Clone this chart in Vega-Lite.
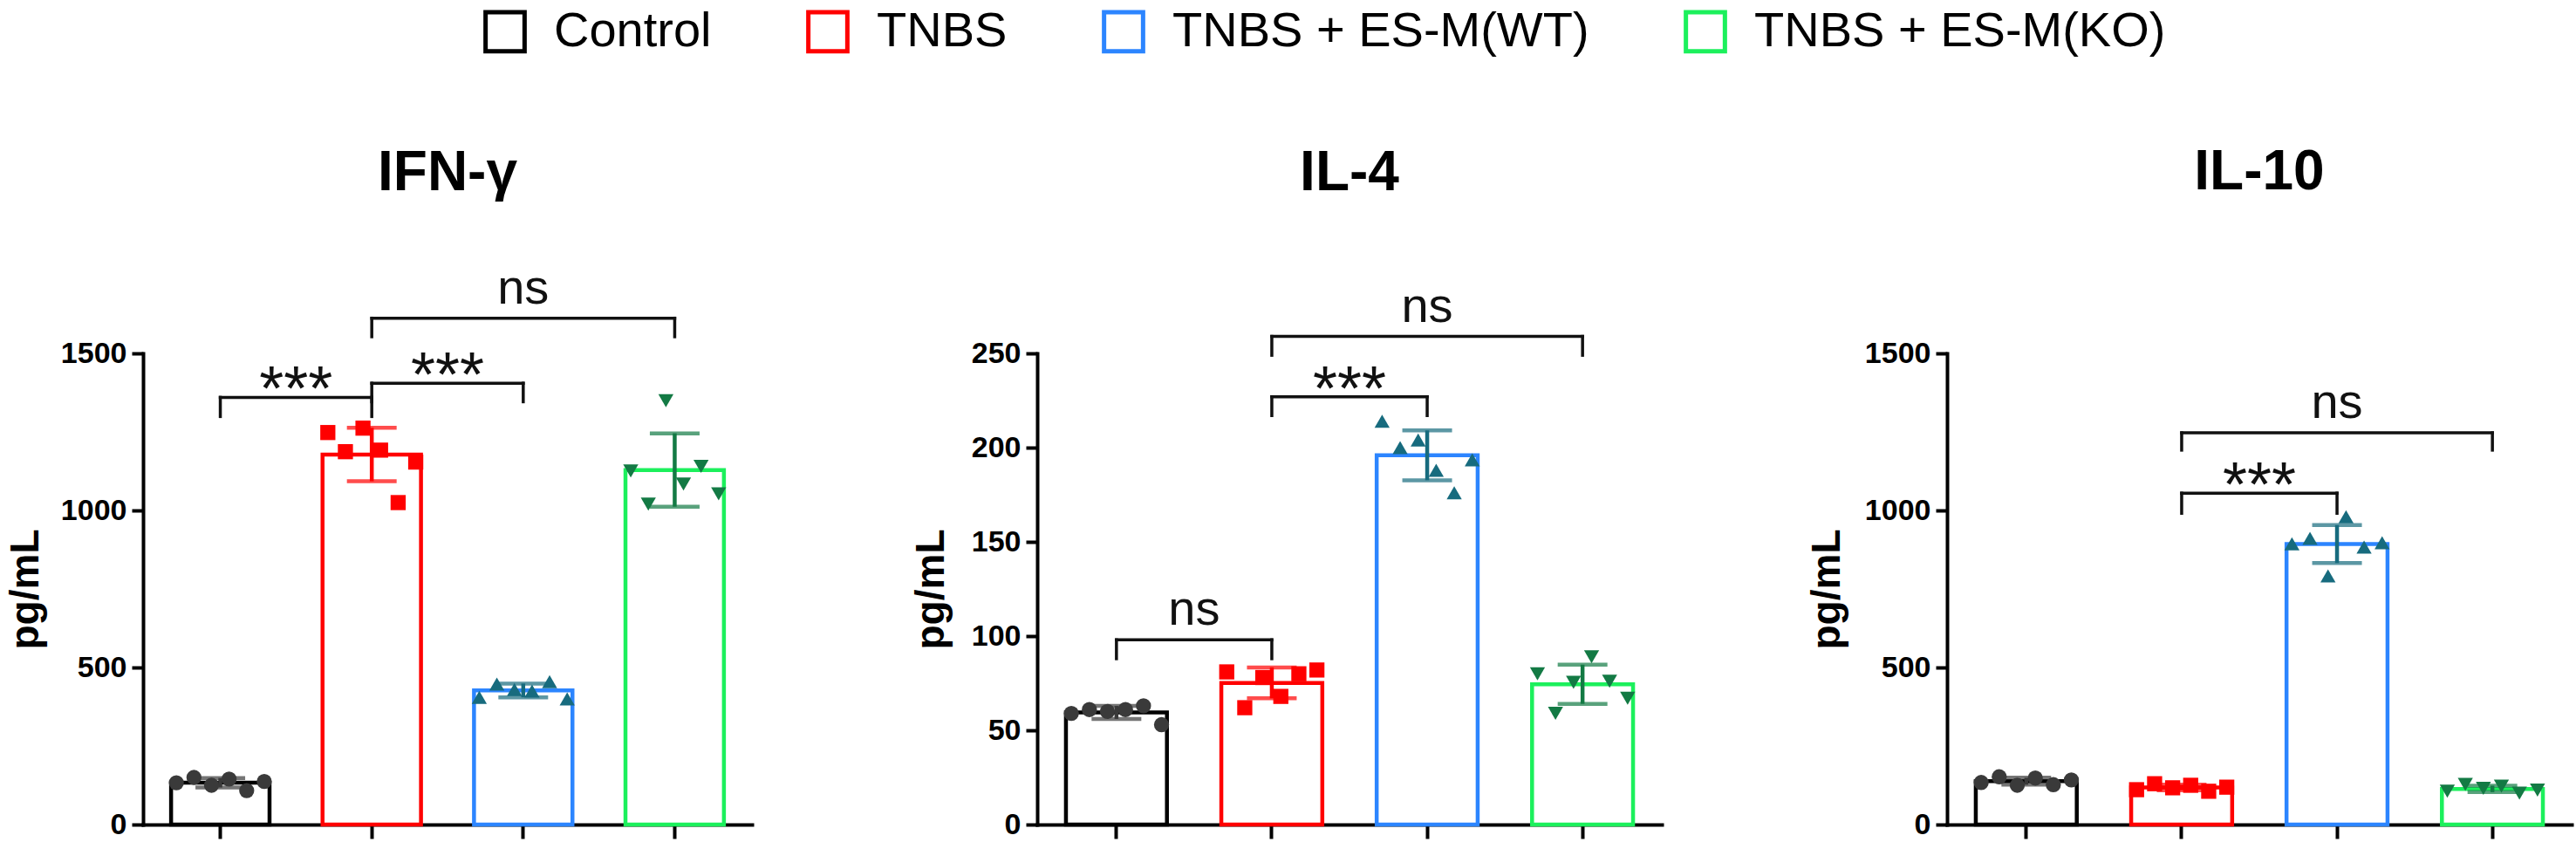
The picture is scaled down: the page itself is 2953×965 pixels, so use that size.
{
  "$schema": "https://vega.github.io/schema/vega-lite/v6.json",
  "background": "white",
  "padding": {"left": 6, "top": 8, "right": 6, "bottom": 0},
  "datasets": {
    "cyto": [
      {"panel": "IFN-γ", "group": "Control", "rep": 1, "value": 133},
      {"panel": "IFN-γ", "group": "Control", "rep": 2, "value": 150},
      {"panel": "IFN-γ", "group": "Control", "rep": 3, "value": 125},
      {"panel": "IFN-γ", "group": "Control", "rep": 4, "value": 145},
      {"panel": "IFN-γ", "group": "Control", "rep": 5, "value": 108},
      {"panel": "IFN-γ", "group": "Control", "rep": 6, "value": 137},
      {"panel": "IFN-γ", "group": "TNBS", "rep": 1, "value": 1248},
      {"panel": "IFN-γ", "group": "TNBS", "rep": 2, "value": 1187},
      {"panel": "IFN-γ", "group": "TNBS", "rep": 3, "value": 1262},
      {"panel": "IFN-γ", "group": "TNBS", "rep": 4, "value": 1192},
      {"panel": "IFN-γ", "group": "TNBS", "rep": 5, "value": 1025},
      {"panel": "IFN-γ", "group": "TNBS", "rep": 6, "value": 1154},
      {"panel": "IFN-γ", "group": "TNBS + ES-M(WT)", "rep": 1, "value": 405},
      {"panel": "IFN-γ", "group": "TNBS + ES-M(WT)", "rep": 2, "value": 447},
      {"panel": "IFN-γ", "group": "TNBS + ES-M(WT)", "rep": 3, "value": 430},
      {"panel": "IFN-γ", "group": "TNBS + ES-M(WT)", "rep": 4, "value": 425},
      {"panel": "IFN-γ", "group": "TNBS + ES-M(WT)", "rep": 5, "value": 455},
      {"panel": "IFN-γ", "group": "TNBS + ES-M(WT)", "rep": 6, "value": 400},
      {"panel": "IFN-γ", "group": "TNBS + ES-M(KO)", "rep": 1, "value": 1126},
      {"panel": "IFN-γ", "group": "TNBS + ES-M(KO)", "rep": 2, "value": 1020},
      {"panel": "IFN-γ", "group": "TNBS + ES-M(KO)", "rep": 3, "value": 1349},
      {"panel": "IFN-γ", "group": "TNBS + ES-M(KO)", "rep": 4, "value": 1084},
      {"panel": "IFN-γ", "group": "TNBS + ES-M(KO)", "rep": 5, "value": 1140},
      {"panel": "IFN-γ", "group": "TNBS + ES-M(KO)", "rep": 6, "value": 1053},
      {"panel": "IL-4", "group": "Control", "rep": 1, "value": 59},
      {"panel": "IL-4", "group": "Control", "rep": 2, "value": 61},
      {"panel": "IL-4", "group": "Control", "rep": 3, "value": 60},
      {"panel": "IL-4", "group": "Control", "rep": 4, "value": 61},
      {"panel": "IL-4", "group": "Control", "rep": 5, "value": 63},
      {"panel": "IL-4", "group": "Control", "rep": 6, "value": 53},
      {"panel": "IL-4", "group": "TNBS", "rep": 1, "value": 81},
      {"panel": "IL-4", "group": "TNBS", "rep": 2, "value": 62},
      {"panel": "IL-4", "group": "TNBS", "rep": 3, "value": 78},
      {"panel": "IL-4", "group": "TNBS", "rep": 4, "value": 68},
      {"panel": "IL-4", "group": "TNBS", "rep": 5, "value": 80},
      {"panel": "IL-4", "group": "TNBS", "rep": 6, "value": 82},
      {"panel": "IL-4", "group": "TNBS + ES-M(WT)", "rep": 1, "value": 214},
      {"panel": "IL-4", "group": "TNBS + ES-M(WT)", "rep": 2, "value": 200},
      {"panel": "IL-4", "group": "TNBS + ES-M(WT)", "rep": 3, "value": 204},
      {"panel": "IL-4", "group": "TNBS + ES-M(WT)", "rep": 4, "value": 188},
      {"panel": "IL-4", "group": "TNBS + ES-M(WT)", "rep": 5, "value": 176},
      {"panel": "IL-4", "group": "TNBS + ES-M(WT)", "rep": 6, "value": 193.5},
      {"panel": "IL-4", "group": "TNBS + ES-M(KO)", "rep": 1, "value": 80},
      {"panel": "IL-4", "group": "TNBS + ES-M(KO)", "rep": 2, "value": 59},
      {"panel": "IL-4", "group": "TNBS + ES-M(KO)", "rep": 3, "value": 75.5},
      {"panel": "IL-4", "group": "TNBS + ES-M(KO)", "rep": 4, "value": 89},
      {"panel": "IL-4", "group": "TNBS + ES-M(KO)", "rep": 5, "value": 76},
      {"panel": "IL-4", "group": "TNBS + ES-M(KO)", "rep": 6, "value": 67},
      {"panel": "IL-10", "group": "Control", "rep": 1, "value": 134},
      {"panel": "IL-10", "group": "Control", "rep": 2, "value": 152},
      {"panel": "IL-10", "group": "Control", "rep": 3, "value": 125},
      {"panel": "IL-10", "group": "Control", "rep": 4, "value": 148},
      {"panel": "IL-10", "group": "Control", "rep": 5, "value": 127},
      {"panel": "IL-10", "group": "Control", "rep": 6, "value": 142},
      {"panel": "IL-10", "group": "TNBS", "rep": 1, "value": 111},
      {"panel": "IL-10", "group": "TNBS", "rep": 2, "value": 130},
      {"panel": "IL-10", "group": "TNBS", "rep": 3, "value": 117},
      {"panel": "IL-10", "group": "TNBS", "rep": 4, "value": 125},
      {"panel": "IL-10", "group": "TNBS", "rep": 5, "value": 106},
      {"panel": "IL-10", "group": "TNBS", "rep": 6, "value": 119},
      {"panel": "IL-10", "group": "TNBS + ES-M(WT)", "rep": 1, "value": 894},
      {"panel": "IL-10", "group": "TNBS + ES-M(WT)", "rep": 2, "value": 911},
      {"panel": "IL-10", "group": "TNBS + ES-M(WT)", "rep": 3, "value": 792},
      {"panel": "IL-10", "group": "TNBS + ES-M(WT)", "rep": 4, "value": 980},
      {"panel": "IL-10", "group": "TNBS + ES-M(WT)", "rep": 5, "value": 883},
      {"panel": "IL-10", "group": "TNBS + ES-M(WT)", "rep": 6, "value": 897},
      {"panel": "IL-10", "group": "TNBS + ES-M(KO)", "rep": 1, "value": 106},
      {"panel": "IL-10", "group": "TNBS + ES-M(KO)", "rep": 2, "value": 128},
      {"panel": "IL-10", "group": "TNBS + ES-M(KO)", "rep": 3, "value": 115},
      {"panel": "IL-10", "group": "TNBS + ES-M(KO)", "rep": 4, "value": 122},
      {"panel": "IL-10", "group": "TNBS + ES-M(KO)", "rep": 5, "value": 100},
      {"panel": "IL-10", "group": "TNBS + ES-M(KO)", "rep": 6, "value": 110}
    ],
    "brackets": [
      {"panel": "IFN-γ", "from": "Control", "to": "TNBS", "y": 1360, "leg": 1299, "label": "***", "span": 1},
      {"panel": "IFN-γ", "from": "TNBS", "to": "TNBS + ES-M(WT)", "y": 1405, "leg": 1346, "label": "***", "span": 1},
      {"panel": "IFN-γ", "from": "TNBS", "to": "TNBS + ES-M(KO)", "y": 1612, "leg": 1553, "label": "ns", "span": 2},
      {"panel": "IL-4", "from": "Control", "to": "TNBS", "y": 98, "leg": 88, "label": "ns", "span": 1},
      {"panel": "IL-4", "from": "TNBS", "to": "TNBS + ES-M(WT)", "y": 227, "leg": 217, "label": "***", "span": 1},
      {"panel": "IL-4", "from": "TNBS", "to": "TNBS + ES-M(KO)", "y": 259, "leg": 249, "label": "ns", "span": 2},
      {"panel": "IL-10", "from": "TNBS", "to": "TNBS + ES-M(WT)", "y": 1055, "leg": 991, "label": "***", "span": 1},
      {"panel": "IL-10", "from": "TNBS", "to": "TNBS + ES-M(KO)", "y": 1247, "leg": 1192, "label": "ns", "span": 2}
    ]
  },
  "bounds": "flush",
  "spacing": 327,
  "hconcat": [
    {
      "width": 698,
      "height": 540,
      "title": {"text": "IFN-γ", "offset": 72},
      "layer": [
        {
          "data": {"name": "cyto"},
          "transform": [{"filter": "datum.panel === 'IFN-γ'"}],
          "resolve": {"scale": {"xOffset": "independent"}},
          "layer": [
            {
              "mark": {"type": "bar", "fill": "white", "strokeWidth": 4.5},
              "encoding": {
                "x": {"field": "group", "type": "nominal", "title": null, "scale": {"domain": ["Control", "TNBS", "TNBS + ES-M(WT)", "TNBS + ES-M(KO)"], "paddingInner": 0.35, "paddingOuter": 0.185}, "axis": {"labels": false}},
                "y": {"aggregate": "mean", "field": "value", "type": "quantitative", "title": "pg/mL", "scale": {"domain": [0, 1500]}, "axis": {"values": [0, 500, 1000, 1500], "format": "d"}},
                "stroke": {"field": "group", "type": "nominal", "scale": {"domain": ["Control", "TNBS", "TNBS + ES-M(WT)", "TNBS + ES-M(KO)"], "range": ["#000000", "#ff0000", "#2c85ff", "#1cf05c"]}, "legend": {"title": null}}
              }
            },
            {
              "mark": {"type": "errorbar", "extent": "stdev", "ticks": true, "size": 57, "thickness": 4.5},
              "encoding": {
                "x": {"field": "group", "type": "nominal", "title": null},
                "y": {"field": "value", "type": "quantitative", "title": "pg/mL", "scale": {"domain": [0, 1500]}},
                "color": {"condition": [{"test": "datum.group === 'TNBS'", "value": "#ff0000"}, {"test": "datum.group === 'TNBS + ES-M(WT)'", "value": "#176b7e"}, {"test": "datum.group === 'TNBS + ES-M(KO)'", "value": "#137a44"}], "value": "#3a3a3a"}
              }
            },
            {
              "mark": {"type": "point", "filled": true, "size": 300, "opacity": 1},
              "encoding": {
                "x": {"field": "group", "type": "nominal", "title": null},
                "xOffset": {"field": "rep", "type": "ordinal", "scale": {"type": "point", "padding": 0.3}},
                "y": {"field": "value", "type": "quantitative", "title": "pg/mL", "scale": {"domain": [0, 1500]}},
                "color": {"condition": [{"test": "datum.group === 'TNBS'", "value": "#ff0000"}, {"test": "datum.group === 'TNBS + ES-M(WT)'", "value": "#176b7e"}, {"test": "datum.group === 'TNBS + ES-M(KO)'", "value": "#137a44"}], "value": "#3a3a3a"},
                "shape": {"condition": [{"test": "datum.group === 'TNBS'", "value": "square"}, {"test": "datum.group === 'TNBS + ES-M(WT)'", "value": "triangle-up"}, {"test": "datum.group === 'TNBS + ES-M(KO)'", "value": "triangle-down"}], "value": "circle"}
              }
            }
          ]
        },
        {
          "data": {"name": "brackets"},
          "transform": [{"filter": "datum.panel === 'IFN-γ'"}],
          "layer": [
            {
              "mark": {"type": "rule", "strokeWidth": 3.5, "color": "#111111", "strokeCap": "square"},
              "encoding": {
                "x": {"field": "from", "type": "nominal", "title": null},
                "x2": {"field": "to"},
                "y": {"field": "y", "type": "quantitative", "title": "pg/mL", "scale": {"domain": [0, 1500]}}
              }
            },
            {
              "mark": {"type": "rule", "strokeWidth": 3.5, "color": "#111111", "strokeCap": "square"},
              "encoding": {
                "x": {"field": "from", "type": "nominal", "title": null},
                "y": {"field": "y", "type": "quantitative", "title": "pg/mL", "scale": {"domain": [0, 1500]}},
                "y2": {"field": "leg"}
              }
            },
            {
              "mark": {"type": "rule", "strokeWidth": 3.5, "color": "#111111", "strokeCap": "square"},
              "encoding": {
                "x": {"field": "to", "type": "nominal", "title": null},
                "y": {"field": "y", "type": "quantitative", "title": "pg/mL", "scale": {"domain": [0, 1500]}},
                "y2": {"field": "leg"}
              }
            },
            {
              "transform": [{"filter": "datum.span === 1 && datum.label === '***'"}],
              "mark": {"type": "text", "fontSize": 72, "dy": 15, "align": "center", "baseline": "alphabetic", "color": "#111111"},
              "encoding": {
                "x": {"field": "from", "type": "nominal", "title": null, "bandPosition": 1.269},
                "y": {"field": "y", "type": "quantitative", "title": "pg/mL", "scale": {"domain": [0, 1500]}},
                "text": {"field": "label"}
              }
            },
            {
              "transform": [{"filter": "datum.span === 2"}],
              "mark": {"type": "text", "fontSize": 56, "dy": -17, "align": "center", "baseline": "alphabetic", "color": "#111111"},
              "encoding": {
                "x": {"field": "from", "type": "nominal", "title": null, "bandPosition": 2.038},
                "y": {"field": "y", "type": "quantitative", "title": "pg/mL", "scale": {"domain": [0, 1500]}},
                "text": {"field": "label"}
              }
            }
          ]
        }
      ]
    },
    {
      "width": 716,
      "height": 540,
      "title": {"text": "IL-4", "offset": 93},
      "layer": [
        {
          "data": {"name": "cyto"},
          "transform": [{"filter": "datum.panel === 'IL-4'"}],
          "resolve": {"scale": {"xOffset": "independent"}},
          "layer": [
            {
              "mark": {"type": "bar", "fill": "white", "strokeWidth": 4.5},
              "encoding": {
                "x": {"field": "group", "type": "nominal", "title": null, "scale": {"domain": ["Control", "TNBS", "TNBS + ES-M(WT)", "TNBS + ES-M(KO)"], "paddingInner": 0.35, "paddingOuter": 0.185}, "axis": {"labels": false}},
                "y": {"aggregate": "mean", "field": "value", "type": "quantitative", "title": "pg/mL", "scale": {"domain": [0, 250]}, "axis": {"values": [0, 50, 100, 150, 200, 250], "format": "d", "titlePadding": 22}},
                "stroke": {"field": "group", "type": "nominal", "scale": {"domain": ["Control", "TNBS", "TNBS + ES-M(WT)", "TNBS + ES-M(KO)"], "range": ["#000000", "#ff0000", "#2c85ff", "#1cf05c"]}, "legend": {"title": null}}
              }
            },
            {
              "mark": {"type": "errorbar", "extent": "stdev", "ticks": true, "size": 57, "thickness": 4.5},
              "encoding": {
                "x": {"field": "group", "type": "nominal", "title": null},
                "y": {"field": "value", "type": "quantitative", "title": "pg/mL", "scale": {"domain": [0, 250]}},
                "color": {"condition": [{"test": "datum.group === 'TNBS'", "value": "#ff0000"}, {"test": "datum.group === 'TNBS + ES-M(WT)'", "value": "#176b7e"}, {"test": "datum.group === 'TNBS + ES-M(KO)'", "value": "#137a44"}], "value": "#3a3a3a"}
              }
            },
            {
              "mark": {"type": "point", "filled": true, "size": 300, "opacity": 1},
              "encoding": {
                "x": {"field": "group", "type": "nominal", "title": null},
                "xOffset": {"field": "rep", "type": "ordinal", "scale": {"type": "point", "padding": 0.3}},
                "y": {"field": "value", "type": "quantitative", "title": "pg/mL", "scale": {"domain": [0, 250]}},
                "color": {"condition": [{"test": "datum.group === 'TNBS'", "value": "#ff0000"}, {"test": "datum.group === 'TNBS + ES-M(WT)'", "value": "#176b7e"}, {"test": "datum.group === 'TNBS + ES-M(KO)'", "value": "#137a44"}], "value": "#3a3a3a"},
                "shape": {"condition": [{"test": "datum.group === 'TNBS'", "value": "square"}, {"test": "datum.group === 'TNBS + ES-M(WT)'", "value": "triangle-up"}, {"test": "datum.group === 'TNBS + ES-M(KO)'", "value": "triangle-down"}], "value": "circle"}
              }
            }
          ]
        },
        {
          "data": {"name": "brackets"},
          "transform": [{"filter": "datum.panel === 'IL-4'"}],
          "layer": [
            {
              "mark": {"type": "rule", "strokeWidth": 3.5, "color": "#111111", "strokeCap": "square"},
              "encoding": {
                "x": {"field": "from", "type": "nominal", "title": null},
                "x2": {"field": "to"},
                "y": {"field": "y", "type": "quantitative", "title": "pg/mL", "scale": {"domain": [0, 250]}}
              }
            },
            {
              "mark": {"type": "rule", "strokeWidth": 3.5, "color": "#111111", "strokeCap": "square"},
              "encoding": {
                "x": {"field": "from", "type": "nominal", "title": null},
                "y": {"field": "y", "type": "quantitative", "title": "pg/mL", "scale": {"domain": [0, 250]}},
                "y2": {"field": "leg"}
              }
            },
            {
              "mark": {"type": "rule", "strokeWidth": 3.5, "color": "#111111", "strokeCap": "square"},
              "encoding": {
                "x": {"field": "to", "type": "nominal", "title": null},
                "y": {"field": "y", "type": "quantitative", "title": "pg/mL", "scale": {"domain": [0, 250]}},
                "y2": {"field": "leg"}
              }
            },
            {
              "transform": [{"filter": "datum.span === 1 && datum.label === '***'"}],
              "mark": {"type": "text", "fontSize": 72, "dy": 15, "align": "center", "baseline": "alphabetic", "color": "#111111"},
              "encoding": {
                "x": {"field": "from", "type": "nominal", "title": null, "bandPosition": 1.269},
                "y": {"field": "y", "type": "quantitative", "title": "pg/mL", "scale": {"domain": [0, 250]}},
                "text": {"field": "label"}
              }
            },
            {
              "transform": [{"filter": "datum.span === 1 && datum.label === 'ns'"}],
              "mark": {"type": "text", "fontSize": 56, "dy": -17, "align": "center", "baseline": "alphabetic", "color": "#111111"},
              "encoding": {
                "x": {"field": "from", "type": "nominal", "title": null, "bandPosition": 1.269},
                "y": {"field": "y", "type": "quantitative", "title": "pg/mL", "scale": {"domain": [0, 250]}},
                "text": {"field": "label"}
              }
            },
            {
              "transform": [{"filter": "datum.span === 2"}],
              "mark": {"type": "text", "fontSize": 56, "dy": -17, "align": "center", "baseline": "alphabetic", "color": "#111111"},
              "encoding": {
                "x": {"field": "from", "type": "nominal", "title": null, "bandPosition": 2.038},
                "y": {"field": "y", "type": "quantitative", "title": "pg/mL", "scale": {"domain": [0, 250]}},
                "text": {"field": "label"}
              }
            }
          ]
        }
      ]
    },
    {
      "width": 716,
      "height": 540,
      "title": {"text": "IL-10", "offset": 158},
      "layer": [
        {
          "data": {"name": "cyto"},
          "transform": [{"filter": "datum.panel === 'IL-10'"}],
          "resolve": {"scale": {"xOffset": "independent"}},
          "layer": [
            {
              "mark": {"type": "bar", "fill": "white", "strokeWidth": 4.5},
              "encoding": {
                "x": {"field": "group", "type": "nominal", "title": null, "scale": {"domain": ["Control", "TNBS", "TNBS + ES-M(WT)", "TNBS + ES-M(KO)"], "paddingInner": 0.35, "paddingOuter": 0.185}, "axis": {"labels": false}},
                "y": {"aggregate": "mean", "field": "value", "type": "quantitative", "title": "pg/mL", "scale": {"domain": [0, 1500]}, "axis": {"values": [0, 500, 1000, 1500], "format": "d", "titlePadding": 19}},
                "stroke": {"field": "group", "type": "nominal", "scale": {"domain": ["Control", "TNBS", "TNBS + ES-M(WT)", "TNBS + ES-M(KO)"], "range": ["#000000", "#ff0000", "#2c85ff", "#1cf05c"]}, "legend": {"title": null}}
              }
            },
            {
              "mark": {"type": "errorbar", "extent": "stdev", "ticks": true, "size": 57, "thickness": 4.5},
              "encoding": {
                "x": {"field": "group", "type": "nominal", "title": null},
                "y": {"field": "value", "type": "quantitative", "title": "pg/mL", "scale": {"domain": [0, 1500]}},
                "color": {"condition": [{"test": "datum.group === 'TNBS'", "value": "#ff0000"}, {"test": "datum.group === 'TNBS + ES-M(WT)'", "value": "#176b7e"}, {"test": "datum.group === 'TNBS + ES-M(KO)'", "value": "#137a44"}], "value": "#3a3a3a"}
              }
            },
            {
              "mark": {"type": "point", "filled": true, "size": 300, "opacity": 1},
              "encoding": {
                "x": {"field": "group", "type": "nominal", "title": null},
                "xOffset": {"field": "rep", "type": "ordinal", "scale": {"type": "point", "padding": 0.3}},
                "y": {"field": "value", "type": "quantitative", "title": "pg/mL", "scale": {"domain": [0, 1500]}},
                "color": {"condition": [{"test": "datum.group === 'TNBS'", "value": "#ff0000"}, {"test": "datum.group === 'TNBS + ES-M(WT)'", "value": "#176b7e"}, {"test": "datum.group === 'TNBS + ES-M(KO)'", "value": "#137a44"}], "value": "#3a3a3a"},
                "shape": {"condition": [{"test": "datum.group === 'TNBS'", "value": "square"}, {"test": "datum.group === 'TNBS + ES-M(WT)'", "value": "triangle-up"}, {"test": "datum.group === 'TNBS + ES-M(KO)'", "value": "triangle-down"}], "value": "circle"}
              }
            }
          ]
        },
        {
          "data": {"name": "brackets"},
          "transform": [{"filter": "datum.panel === 'IL-10'"}],
          "layer": [
            {
              "mark": {"type": "rule", "strokeWidth": 3.5, "color": "#111111", "strokeCap": "square"},
              "encoding": {
                "x": {"field": "from", "type": "nominal", "title": null},
                "x2": {"field": "to"},
                "y": {"field": "y", "type": "quantitative", "title": "pg/mL", "scale": {"domain": [0, 1500]}}
              }
            },
            {
              "mark": {"type": "rule", "strokeWidth": 3.5, "color": "#111111", "strokeCap": "square"},
              "encoding": {
                "x": {"field": "from", "type": "nominal", "title": null},
                "y": {"field": "y", "type": "quantitative", "title": "pg/mL", "scale": {"domain": [0, 1500]}},
                "y2": {"field": "leg"}
              }
            },
            {
              "mark": {"type": "rule", "strokeWidth": 3.5, "color": "#111111", "strokeCap": "square"},
              "encoding": {
                "x": {"field": "to", "type": "nominal", "title": null},
                "y": {"field": "y", "type": "quantitative", "title": "pg/mL", "scale": {"domain": [0, 1500]}},
                "y2": {"field": "leg"}
              }
            },
            {
              "transform": [{"filter": "datum.span === 1 && datum.label === '***'"}],
              "mark": {"type": "text", "fontSize": 72, "dy": 15, "align": "center", "baseline": "alphabetic", "color": "#111111"},
              "encoding": {
                "x": {"field": "from", "type": "nominal", "title": null, "bandPosition": 1.269},
                "y": {"field": "y", "type": "quantitative", "title": "pg/mL", "scale": {"domain": [0, 1500]}},
                "text": {"field": "label"}
              }
            },
            {
              "transform": [{"filter": "datum.span === 2"}],
              "mark": {"type": "text", "fontSize": 56, "dy": -17, "align": "center", "baseline": "alphabetic", "color": "#111111"},
              "encoding": {
                "x": {"field": "from", "type": "nominal", "title": null, "bandPosition": 2.038},
                "y": {"field": "y", "type": "quantitative", "title": "pg/mL", "scale": {"domain": [0, 1500]}},
                "text": {"field": "label"}
              }
            }
          ]
        }
      ]
    }
  ],
  "config": {
    "font": "Liberation Sans",
    "view": {"stroke": null},
    "title": {"fontSize": 64, "fontWeight": "bold", "color": "#000000", "font": "Liberation Sans", "frame": "group", "anchor": "middle"},
    "axis": {
      "domainColor": "#000000",
      "domainWidth": 4,
      "domainCap": "square",
      "tickColor": "#000000",
      "tickWidth": 4,
      "labelColor": "#000000",
      "labelFont": "Liberation Sans",
      "labelFontSize": 34,
      "labelFontWeight": "bold",
      "titleFont": "Liberation Sans",
      "titleFontSize": 46,
      "titleFontWeight": "bold",
      "titleColor": "#000000",
      "grid": false,
      "zindex": 1
    },
    "axisY": {"tickSize": 13, "labelPadding": 6, "titlePadding": 16},
    "axisX": {"tickSize": 16},
    "legend": {
      "orient": "none",
      "legendX": 387,
      "legendY": -397,
      "direction": "horizontal",
      "symbolType": "square",
      "symbolSize": 2000,
      "symbolStrokeWidth": 5,
      "symbolFillColor": "white",
      "labelFontSize": 56,
      "labelFont": "Liberation Sans",
      "labelColor": "#000000",
      "columnPadding": 100,
      "labelOffset": 28,
      "labelLimit": 0
    }
  }
}
